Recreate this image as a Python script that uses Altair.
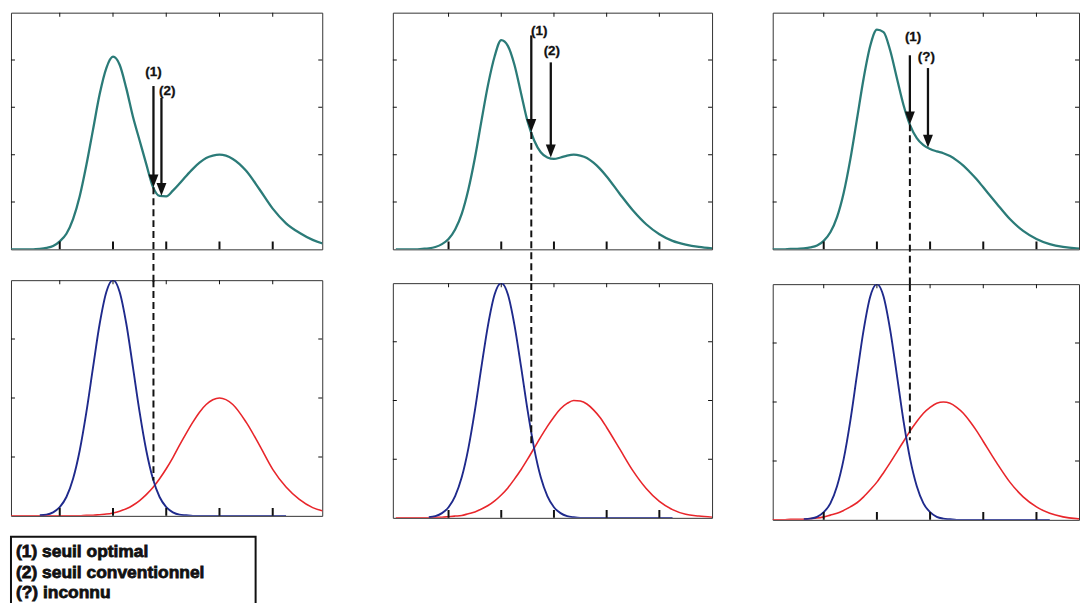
import altair as alt
import pandas as pd

# ---------------- data ----------------
X_GRID = [-1, -0.875, -0.75, -0.625, -0.5, -0.375, -0.25, -0.125,
          0, 0.125, 0.25, 0.375, 0.5, 0.625, 0.75, 0.875,
          1, 1.125, 1.25, 1.375, 1.5, 1.625, 1.75, 1.875,
          2, 2.125, 2.25, 2.375, 2.5, 2.625, 2.75, 2.875,
          3, 3.25, 3.5, 3.75, 4, 4.25, 4.5, 4.75, 5]

P1_MIX = [0, 0, 0, 0, 0, 0.01, 0.03, 0.07,
          0.17, 0.33, 0.64, 1.12, 1.78, 2.53, 3.28, 3.83,
          4.07, 3.9, 3.4, 2.8, 2.3, 1.8, 1.32, 1.13,
          1.12, 1.24, 1.39, 1.55, 1.7, 1.83, 1.93, 1.98,
          2.0, 1.91, 1.66, 1.27, 0.86, 0.55, 0.35, 0.2, 0.1]
P1_LOW = [0, 0, 0, 0, 0, 0.01, 0.02, 0.06,
          0.15, 0.32, 0.63, 1.11, 1.76, 2.52, 3.26, 3.8,
          4.0, 3.8, 3.26, 2.52, 1.76, 1.11, 0.63, 0.32,
          0.15, 0.06, 0.02, 0.01, 0, 0, 0, 0,
          0, 0, 0, 0, 0, 0, 0, 0, 0]
P1_HIGH = [0, 0, 0, 0, 0, 0, 0, 0,
           0, 0, 0, 0, 0.01, 0.01, 0.02, 0.03,
           0.05, 0.08, 0.12, 0.18, 0.26, 0.36, 0.48, 0.63,
           0.8, 0.99, 1.2, 1.4, 1.59, 1.76, 1.89, 1.97,
           2.0, 1.89, 1.59, 1.2, 0.79, 0.49, 0.28, 0.14, 0.07]

P2_MIX = [0, 0, 0, 0, 0.01, 0.02, 0.05, 0.11,
          0.22, 0.42, 0.75, 1.26, 1.93, 2.72, 3.48, 4.08,
          4.42, 4.3, 3.9, 3.3, 2.7, 2.3, 2.05, 1.94,
          1.91, 1.94, 1.98, 2.0, 1.98, 1.93, 1.83, 1.7,
          1.54, 1.17, 0.82, 0.53, 0.32, 0.18, 0.1, 0.05, 0.02]
P2_LOW = [0, 0, 0, 0, 0, 0.01, 0.03, 0.08,
          0.18, 0.37, 0.69, 1.18, 1.83, 2.58, 3.29, 3.81,
          4.0, 3.81, 3.29, 2.58, 1.83, 1.18, 0.69, 0.37,
          0.18, 0.08, 0.03, 0.01, 0, 0, 0, 0,
          0, 0, 0, 0, 0, 0, 0, 0, 0]
P2_HIGH = [0, 0, 0, 0, 0, 0, 0.01, 0.01,
           0.02, 0.03, 0.04, 0.07, 0.1, 0.15, 0.21, 0.29,
           0.39, 0.51, 0.66, 0.82, 1.0, 1.19, 1.38, 1.56,
           1.72, 1.86, 1.95, 2.0, 1.99, 1.94, 1.84, 1.71,
           1.54, 1.17, 0.8, 0.5, 0.28, 0.14, 0.06, 0.03, 0.01]

P3_MIX = [0, 0, 0, 0.01, 0.01, 0.02, 0.04, 0.08,
          0.18, 0.36, 0.68, 1.19, 1.9, 2.75, 3.61, 4.3,
          4.64, 4.59, 4.2, 3.62, 3.05, 2.62, 2.35, 2.2,
          2.12, 2.07, 2.03, 1.97, 1.88, 1.77, 1.63, 1.48,
          1.31, 0.97, 0.64, 0.39, 0.22, 0.11, 0.05, 0.02, 0.01]
P3_LOW = [0, 0, 0, 0, 0, 0.01, 0.02, 0.05,
          0.13, 0.28, 0.57, 1.03, 1.68, 2.46, 3.22, 3.79,
          4.0, 3.79, 3.22, 2.46, 1.68, 1.03, 0.57, 0.28,
          0.13, 0.05, 0.02, 0.01, 0, 0, 0, 0,
          0, 0, 0, 0, 0, 0, 0, 0, 0]
P3_HIGH = [0, 0, 0, 0.01, 0.01, 0.01, 0.02, 0.03,
           0.05, 0.08, 0.11, 0.16, 0.22, 0.29, 0.39, 0.51,
           0.64, 0.8, 0.97, 1.15, 1.33, 1.51, 1.67, 1.81,
           1.91, 1.98, 2.0, 1.98, 1.91, 1.81, 1.67, 1.51,
           1.33, 0.97, 0.64, 0.39, 0.22, 0.11, 0.05, 0.02, 0.01]

LOW_SPAN = [-0.375, 4.25]          # x-extent of the blue curve

X_TICKS = [0, 1, 2, 3, 4]
Y_TICKS_TOP = [1, 2, 3, 4]
Y_TICKS_BOTTOM = [1, 2, 3]

# arrows: label, x, top of shaft, tip, label x, label y
P1_LABELS = ["(1)", "(2)"]
P1_AX = [1.76, 1.91]
P1_ATOP = [3.45, 3.2]
P1_ATIP = [1.31, 1.13]
P1_LX = [1.76, 2.02]
P1_LY = [3.74, 3.35]
P1_THRESHOLD = 1.76
P1_CROSS = 0.6

P2_LABELS = ["(1)", "(2)"]
P2_AX = [1.57, 1.94]
P2_ATOP = [4.52, 3.95]
P2_ATIP = [2.48, 1.94]
P2_LX = [1.72, 1.96]
P2_LY = [4.62, 4.18]
P2_THRESHOLD = 1.57
P2_CROSS = 1.25

P3_LABELS = ["(1)", "(?)"]
P3_AX = [1.62, 1.96]
P3_ATOP = [4.1, 3.83]
P3_ATIP = [2.64, 2.15]
P3_LX = [1.68, 1.93]
P3_LY = [4.49, 4.07]
P3_THRESHOLD = 1.62
P3_CROSS = 1.35

LEGEND_LINES = ["(1) seuil optimal", "(2) seuil conventionnel", "(?) inconnu"]
LEGEND_ROWS = [0, 1, 2]

# ---------------- styles ----------------
TEAL = "#2b7b78"
BLUE = "#1f2a8c"
RED = "#e8262b"
INK = "#111111"
FRAME = "#333333"
FONT = "Liberation Sans"
ARROW_PATH = "M-1,-2.6L1,-2.6L0,0Z"

TOP_Y = [0, 5]
BOT_Y = [0, 4]
GAP_DROP = -0.75


def sx(dom):
    return alt.Scale(domain=dom, nice=False, zero=False)


def enc_x(field, dom):
    return alt.X(field, type="quantitative", scale=sx(dom), axis=None)


def enc_y(field, dom):
    return alt.Y(field, type="quantitative", scale=sx(dom), axis=None)


def frame_ticks(xdom, ydom, yticks):
    layers = []
    tx = pd.DataFrame({"t": X_TICKS})
    ty = pd.DataFrame({"t": yticks})
    for yv, sz, th in [(ydom[0], 16, 2), (ydom[1], 8, 1)]:
        layers.append(
            alt.Chart(tx).mark_tick(orient="vertical", size=sz, thickness=th,
                                    color=INK, clip=True, opacity=1)
            .encode(x=enc_x("t", xdom),
                    y=alt.YDatum(yv, type="quantitative", scale=sx(ydom), axis=None))
        )
    for xv in xdom:
        layers.append(
            alt.Chart(ty).mark_tick(orient="horizontal", size=8, thickness=1,
                                    color=INK, clip=True, opacity=1)
            .encode(x=alt.XDatum(xv, type="quantitative", scale=sx(xdom), axis=None),
                    y=enc_y("t", ydom))
        )
    return layers


def top_panel(mix, xdom, width, labels, ax, atop, atip, lx, ly, thr):
    df = pd.DataFrame({"x": X_GRID, "y": mix})
    line = alt.Chart(df).mark_line(color=TEAL, strokeWidth=2.3, interpolate="monotone",
                                   clip=True).encode(x=enc_x("x", xdom), y=enc_y("y", TOP_Y))
    ddf = pd.DataFrame({"x": [thr], "y": [atip[0]], "y2": [GAP_DROP]})
    dashed = alt.Chart(ddf).mark_rule(color=INK, strokeWidth=2, strokeDash=[7, 4]).encode(
        x=enc_x("x", xdom), y=enc_y("y", TOP_Y), y2="y2:Q")
    adf = pd.DataFrame({"label": labels, "x": ax, "top": atop, "tip": atip, "lx": lx, "ly": ly})
    shafts = alt.Chart(adf).mark_rule(color=INK, strokeWidth=2.3, y2Offset=-6).encode(
        x=enc_x("x", xdom), y=enc_y("top", TOP_Y), y2="tip:Q")
    heads = alt.Chart(adf).mark_point(shape=ARROW_PATH, size=100, filled=True, opacity=1,
                                      color=INK, strokeWidth=0).encode(
        x=enc_x("x", xdom), y=enc_y("tip", TOP_Y))
    texts = alt.Chart(adf).mark_text(font=FONT, fontWeight="bold", fontSize=13.5, color=INK,
                                     stroke=INK, strokeWidth=0.3).encode(
        x=enc_x("lx", xdom), y=enc_y("ly", TOP_Y), text="label:N")
    return alt.layer(line, dashed, shafts, heads, texts,
                     *frame_ticks(xdom, TOP_Y, Y_TICKS_TOP)).properties(width=width, height=238)


def bottom_panel(low, high, xdom, width, height, thr, cross):
    dlow = pd.DataFrame({"x": X_GRID, "y": low})
    dlow = dlow[(dlow["x"] >= LOW_SPAN[0]) & (dlow["x"] <= LOW_SPAN[1])]
    dhigh = pd.DataFrame({"x": X_GRID, "y": high})
    red = alt.Chart(dhigh).mark_line(color=RED, strokeWidth=1.6, interpolate="monotone",
                                     clip=True).encode(x=enc_x("x", xdom), y=enc_y("y", BOT_Y))
    blue = alt.Chart(dlow).mark_line(color=BLUE, strokeWidth=1.9, interpolate="monotone",
                                     clip=True).encode(x=enc_x("x", xdom), y=enc_y("y", BOT_Y))
    ddf = pd.DataFrame({"x": [thr], "y": [BOT_Y[1]], "y2": [cross]})
    dashed = alt.Chart(ddf).mark_rule(color=INK, strokeWidth=2, strokeDash=[7, 4]).encode(
        x=enc_x("x", xdom), y=enc_y("y", BOT_Y), y2="y2:Q")
    return alt.layer(red, blue, dashed,
                     *frame_ticks(xdom, BOT_Y, Y_TICKS_BOTTOM)).properties(width=width, height=height)


X1 = [-0.916, 4.93]
X2 = [-1.057, 5.0]
X3 = [-0.959, 4.8]

top1 = top_panel(P1_MIX, X1, 313, P1_LABELS, P1_AX, P1_ATOP, P1_ATIP, P1_LX, P1_LY, P1_THRESHOLD)
top2 = top_panel(P2_MIX, X2, 321, P2_LABELS, P2_AX, P2_ATOP, P2_ATIP, P2_LX, P2_LY, P2_THRESHOLD)
top3 = top_panel(P3_MIX, X3, 308, P3_LABELS, P3_AX, P3_ATOP, P3_ATIP, P3_LX, P3_LY, P3_THRESHOLD)

bot1 = bottom_panel(P1_LOW, P1_HIGH, X1, 313, 237, P1_THRESHOLD, P1_CROSS)
bot2 = bottom_panel(P2_LOW, P2_HIGH, X2, 321, 236, P2_THRESHOLD, P2_CROSS)
bot3 = bottom_panel(P3_LOW, P3_HIGH, X3, 308, 237, P3_THRESHOLD, P3_CROSS)

legend = alt.Chart(pd.DataFrame({"line": LEGEND_LINES, "row": LEGEND_ROWS})).mark_text(
    align="left", baseline="middle", font=FONT, fontWeight="bold", fontSize=17.5,
    color=INK, stroke=INK, strokeWidth=0.8
).encode(
    x=alt.value(5),
    y=alt.Y("row:Q", scale=alt.Scale(domain=[-0.714, 2.857], reverse=True, nice=False, zero=False),
            axis=None),
    text="line:N",
).properties(width=246, height=75, view=alt.ViewBackground(stroke=INK, strokeWidth=2))

col1 = alt.vconcat(alt.vconcat(top1, bot1, spacing=31, bounds="flush"), legend, spacing=19)
col2 = alt.vconcat(top2, bot2, spacing=34, bounds="flush")
col3 = alt.vconcat(top3, bot3, spacing=35, bounds="flush")

chart = alt.hconcat(
    col1, alt.hconcat(col2, col3, spacing=59), spacing=69
).properties(
    padding={"left": 2, "top": 2, "right": 0, "bottom": 0},
    background="white",
).configure_view(stroke=FRAME, strokeWidth=1)

chart.save("out.html", embed_options={"renderer": "svg", "actions": False})
